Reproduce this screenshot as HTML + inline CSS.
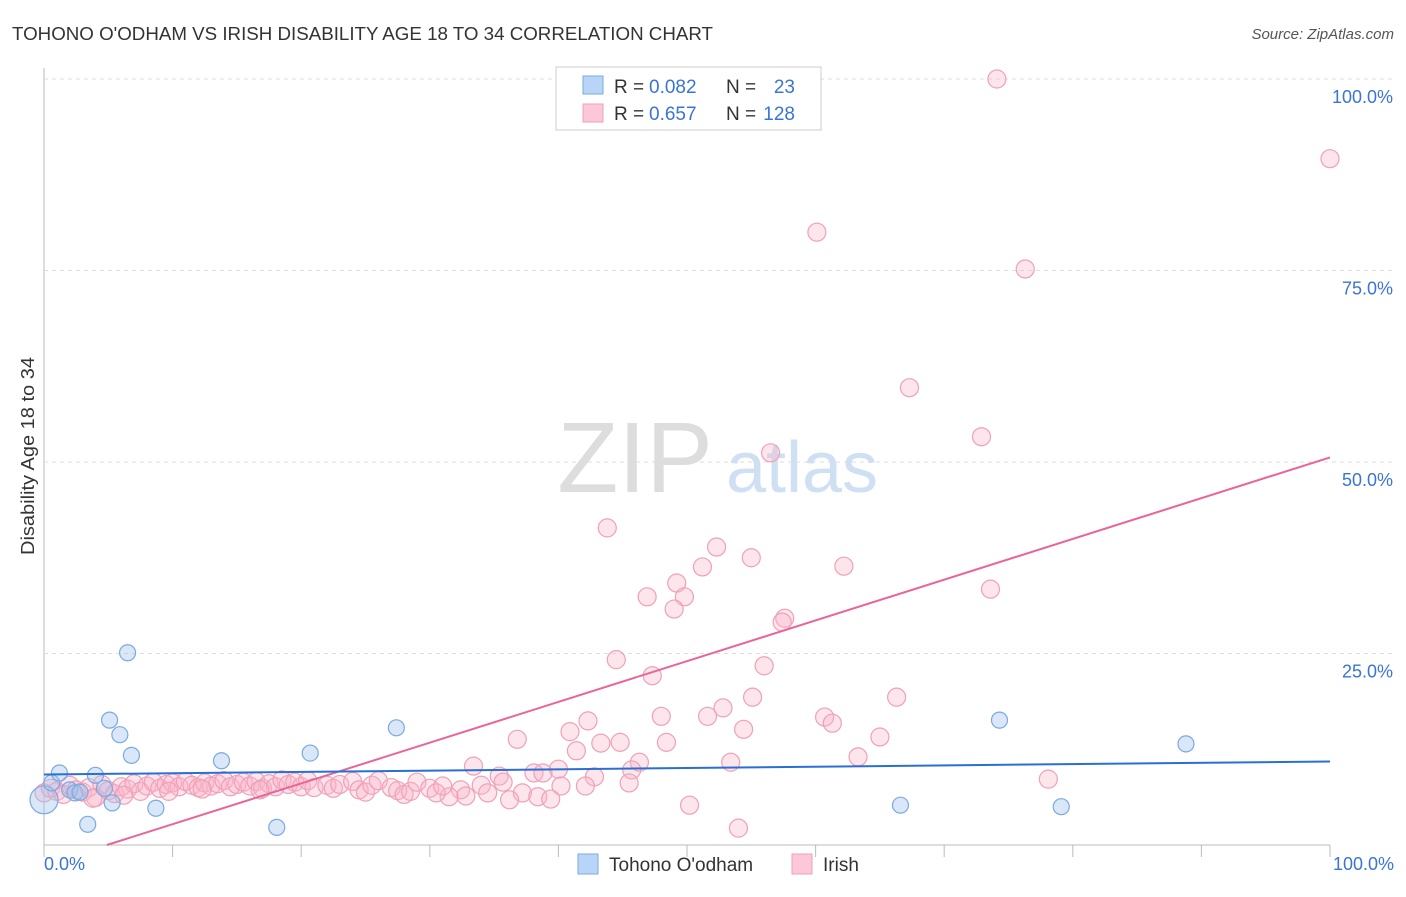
<!DOCTYPE html>
<html><head><meta charset="utf-8"><style>
body{margin:0;background:#fff;font-family:"Liberation Sans",sans-serif}
svg text{font-family:"Liberation Sans",sans-serif}
</style></head><body>
<svg id="chart" width="1406" height="892">
<text x="12" y="40" font-size="18" fill="#333" textLength="701" lengthAdjust="spacingAndGlyphs">TOHONO O'ODHAM VS IRISH DISABILITY AGE 18 TO 34 CORRELATION CHART</text>
<text x="1394" y="39" font-size="15" fill="#555" text-anchor="end" font-style="italic">Source: ZipAtlas.com</text>
<text x="635" y="492" font-size="100" fill="#ddd" font-family="Liberation Serif" text-anchor="middle">ZIP</text>
<text x="802" y="492" font-size="72" fill="#cfe0f4" text-anchor="middle">atlas</text>
<text transform="translate(34,456) rotate(-90)" font-size="18" fill="#333" text-anchor="middle" textLength="198" lengthAdjust="spacingAndGlyphs">Disability Age 18 to 34</text>
<g id="grid"></g><g id="marks"></g>
<g>
<rect x="556" y="67" width="265" height="63" fill="#fff" stroke="#ccc"/>
<rect x="583" y="76" width="20" height="18" fill="#b8d4f6" stroke="#7aaae0"/>
<rect x="583" y="104" width="20" height="18" fill="#fcc8d8" stroke="#f0a0b8"/>
<text x="614" y="93" font-size="19" fill="#333">R =</text>
<text x="649" y="93" font-size="19" fill="#3a74d8">0.082</text>
<text x="726" y="93" font-size="19" fill="#333">N =</text>
<text x="795" y="93" font-size="19" fill="#3a74d8" text-anchor="end">23</text>
<text x="614" y="120" font-size="19" fill="#333">R =</text>
<text x="649" y="120" font-size="19" fill="#3a74d8">0.657</text>
<text x="726" y="120" font-size="19" fill="#333">N =</text>
<text x="795" y="120" font-size="19" fill="#3a74d8" text-anchor="end">128</text>
</g>
<g>
<rect x="578" y="854" width="20" height="20" fill="#b8d4f6" stroke="#7aaae0"/>
<text x="609" y="871" font-size="19" fill="#333">Tohono O'odham</text>
<rect x="792" y="854" width="20" height="20" fill="#fcc8d8" stroke="#f0a0b8"/>
<text x="823" y="871" font-size="19" fill="#333">Irish</text>
</g>
</svg>
<script>
const yTicks=[25,50,75,100];
const yTickLabels=["25.0%","50.0%","75.0%","100.0%"];
const blueX=[0,0.6,1.2,2.0,2.4,2.8,3.4,4.0,4.7,5.3,5.1,5.9,6.5,6.8,8.7,13.8,18.1,20.7,27.4,66.6,74.3,79.1,88.8];
const blueY=[5.9,8.1,9.4,7.2,6.8,6.9,2.7,9.1,7.4,5.5,16.3,14.4,25.1,11.7,4.8,11.0,2.3,12.0,15.3,5.2,16.3,5.0,13.2];
const pinkX=[74.1,100,60.1,76.3,67.3,72.9,56.5,43.8,52.3,55.0,51.2,62.2,49.2,46.9,49.8,73.6,49.0,57.6,57.4,44.5,56.0,47.3,66.3,55.1,52.8,51.6,48.0,60.7,61.3,42.3,40.9,54.4,36.8,43.3,44.8,48.4,65.0,41.4,63.3,46.3,53.4,33.4,40.0,45.7,38.1,38.8,35.4,42.8,78.1,45.5,35.7,40.2,42.1,34.0,32.4,37.2,34.5,32.8,38.4,31.5,36.2,39.4,50.2,54.0,
0,0.5,1,1.5,2,2.5,3,3.5,4,4.5,5,5.5,6,6.5,7,7.5,8,8.5,9,9.5,10,10.5,11,11.5,12,12.5,13,13.5,14,14.5,15,15.5,16,16.5,17,17.5,18,18.5,19,19.5,20,20.5,21,22,22.5,23,24,24.5,25,25.5,26,27,27.5,28,28.5,29,30,30.5,31,3.8,6.2,9.7,12.3,16.8];
const pinkY=[100,89.6,80.0,75.2,59.7,53.3,51.2,41.4,38.9,37.5,36.3,36.4,34.2,32.4,32.4,33.4,30.8,29.6,29.1,24.2,23.4,22.1,19.3,19.3,17.9,16.8,16.8,16.7,15.9,16.2,14.8,15.1,13.8,13.3,13.4,13.4,14.1,12.3,11.5,10.8,10.8,10.3,9.9,9.8,9.4,9.4,9.0,8.9,8.6,8.1,8.2,7.7,7.7,7.8,7.2,6.8,6.8,6.4,6.3,6.3,5.9,6.0,5.2,2.2,
6.8,7.4,7.0,6.6,7.8,7.2,6.9,7.5,6.2,7.9,7.1,6.7,7.6,7.3,8.0,7.0,7.7,8.2,7.4,7.9,8.1,7.6,8.3,7.8,7.5,8.1,7.7,8.0,8.4,7.6,7.9,8.2,7.7,8.3,7.4,8.0,7.6,8.5,7.9,8.2,7.6,8.4,7.5,7.8,7.4,7.9,8.3,7.2,6.9,7.8,8.4,7.5,7.1,6.6,7.0,8.2,7.4,6.8,7.7,6.1,6.5,7.0,7.3,7.2];
const blueLine=[9.2,10.9];
const pinkLine=[-2.6,50.6];
const X0=44,X1=1330,Y0=845,Y1=79;
const sx=v=>X0+(X1-X0)*v/100, sy=v=>Y0-(Y0-Y1)*v/100;
const NS="http://www.w3.org/2000/svg";
const grid=document.getElementById('grid'), marks=document.getElementById('marks');
function mk(tag,attrs,parent){const e=document.createElementNS(NS,tag);for(const k in attrs)e.setAttribute(k,attrs[k]);parent.appendChild(e);return e;}
let ax=mk('line',{x1:X0,x2:X0,y1:68,y2:Y0,stroke:'#bbb'},grid);


let bx=mk('line',{x1:X0,x2:X1,y1:Y0,y2:Y0,stroke:'#bbb'},grid);


yTicks.forEach((t,i)=>{
 let g=mk('line',{x1:X0,x2:1394,y1:sy(t),y2:sy(t),stroke:'#ddd','stroke-dasharray':'4,4'},grid);
 
 
 let l=mk('text',{x:1393,y:sy(t)+24,'font-size':18,fill:'#3a74d8','text-anchor':'end'},grid);l.textContent=yTickLabels[i];
 
 
});
for(let i=0;i<=10;i++){let t=mk('line',{x1:sx(i*10),x2:sx(i*10),y1:Y0,y2:Y0+12,stroke:'#bbb'},grid);
 
 }
let xl=mk('text',{x:44,y:870,'font-size':18,fill:'#3a74d8'},grid);xl.textContent='0.0%';


let xr=mk('text',{x:1394,y:870,'font-size':18,fill:'#3a74d8','text-anchor':'end'},grid);xr.textContent='100.0%';


pinkX.forEach((x,i)=>{let c=mk('circle',{cx:sx(x),cy:sy(pinkY[i]),r:9,fill:'rgba(248,180,200,0.35)',stroke:'#f0a0b8','stroke-width':1.2},marks);
 
 });
blueX.forEach((x,i)=>{let c=mk('circle',{cx:sx(x),cy:sy(blueY[i]),r:i==0?14:8,fill:'rgba(160,196,240,0.4)',stroke:'#7aaae0','stroke-width':1.2},marks);
 
 });
const px0=-pinkLine[0]/(pinkLine[1]-pinkLine[0])*100;
let pl=mk('line',{x1:sx(px0),y1:sy(0),x2:sx(100),y2:sy(pinkLine[1]),stroke:'#e8649a','stroke-width':2},marks);


let bl=mk('line',{x1:sx(0),y1:sy(blueLine[0]),x2:sx(100),y2:sy(blueLine[1]),stroke:'#2a6fd6','stroke-width':2},marks);


</script>
</body></html>
